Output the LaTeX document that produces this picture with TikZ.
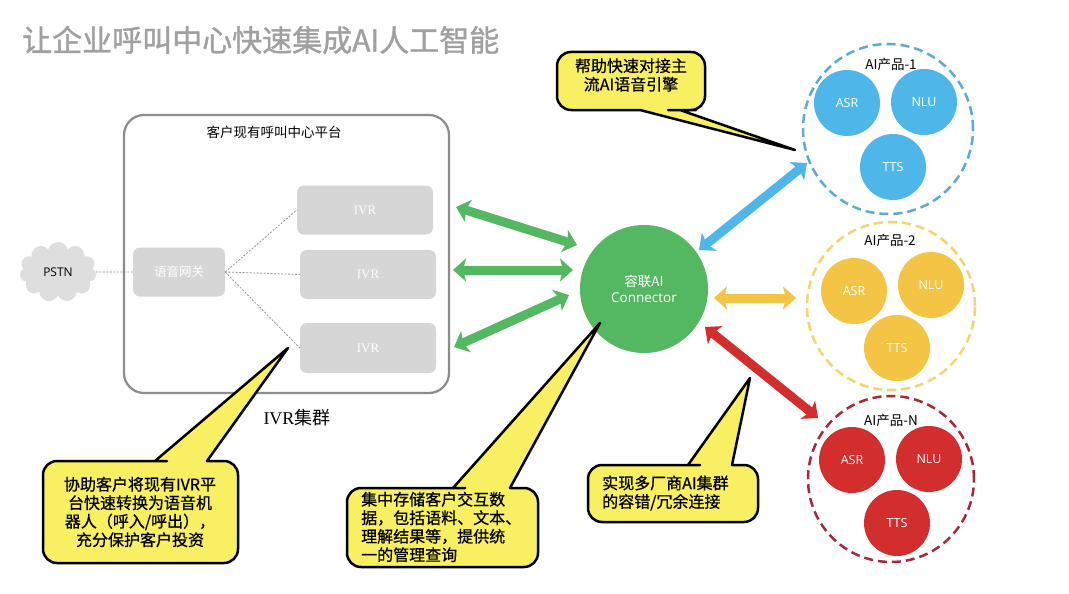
\documentclass[tikz,border=0pt]{standalone}
\usepackage{fontspec}
\setmainfont{Noto Sans CJK SC}
\newfontfamily\serifen{Liberation Serif}
\newfontfamily\latinsans{Open Sans}
\newfontfamily\titlefont[FakeBold=1.2]{Noto Sans CJK SC}
\newfontfamily\bubblefont[FakeBold=0.7]{Noto Sans CJK SC}
\usetikzlibrary{arrows.meta,shapes.symbols}
\definecolor{titlegray}{RGB}{160,160,160}
\definecolor{boxborder}{RGB}{140,140,140}
\definecolor{boxgray}{RGB}{214,214,214}
\definecolor{cloudgray}{RGB}{222,222,222}
\definecolor{dotgray}{RGB}{150,150,150}
\definecolor{cgreen}{RGB}{84,184,98}
\definecolor{cblue}{RGB}{78,182,232}
\definecolor{ringblue}{RGB}{92,170,214}
\definecolor{cyellow}{RGB}{244,196,68}
\definecolor{ringyellow}{RGB}{242,212,112}
\definecolor{cred}{RGB}{210,46,46}
\definecolor{ringred}{RGB}{168,40,58}
\definecolor{bubbleyellow}{RGB}{248,240,98}
\begin{document}
\begin{tikzpicture}[x=1pt,y=-1pt,
  graybox/.style={fill=boxgray, rounded corners=7pt, text=white, inner sep=0},
  prod/.style={circle, minimum size=66pt, inner sep=0, text=white, font=\latinsans\fontsize{12.5}{14}\selectfont},
  ring/.style={circle, dash pattern=on 9pt off 5pt, line width=2.5pt, inner sep=0},
  ringlabel/.style={font=\fontsize{13.5}{15}\selectfont, inner sep=0},
  dotline/.style={draw=dotgray, line width=0.8pt, dash pattern=on 2pt off 1.5pt},
  dbl/.style={line width=9pt, {Stealth[length=13pt,width=23pt,inset=3pt]}-{Stealth[length=13pt,width=23pt,inset=3pt]}},
  bubble/.style={fill=bubbleyellow, draw=black, line width=2.5pt, line join=round},
  bubbletext/.style={font=\bubblefont\fontsize{16}{18.5}\selectfont, inner sep=0}
]
\useasboundingbox (0,0) rectangle (1069,594);
\fill[white] (0,0) rectangle (1069,594);

% title
\node[anchor=west, text=titlegray, font=\titlefont\fontsize{30}{32}\selectfont, inner sep=0] (title) at (22,40) {让企业呼叫中心快速集成AI人工智能};

% platform
\node[draw=boxborder, line width=2.2pt, rounded corners=20pt, minimum width=325pt, minimum height=278pt, inner sep=0] (platform) at (286.5,254) {};
\node[font=\fontsize{13.5}{15}\selectfont, inner sep=0] (platlabel) at (274,132) {客户现有呼叫中心平台};

\node[cloud, cloud puffs=11, cloud ignores aspect, fill=cloudgray, minimum width=77pt, minimum height=60pt, inner sep=0, font=\latinsans\fontsize{12}{14}\selectfont] (pstn) at (58,272) {PSTN};
\node[graybox, minimum width=92pt, minimum height=49pt, font=\fontsize{12.5}{14}\selectfont] (gw) at (179,272) {语音网关};
\node[graybox, minimum width=136pt, minimum height=49pt, font=\serifen\fontsize{13}{15}\selectfont] (ivr1) at (365,210) {IVR};
\node[graybox, minimum width=136pt, minimum height=49pt, font=\serifen\fontsize{13}{15}\selectfont] (ivr2) at (368,274.5) {IVR};
\node[graybox, minimum width=136pt, minimum height=50pt, font=\serifen\fontsize{13}{15}\selectfont] (ivr3) at (368,348) {IVR};

\draw[dotline] (pstn.east) -- (gw.west);
\draw[dotline] (gw.east) -- (ivr1.west);
\draw[dotline] (gw.east) -- (ivr2.west);
\draw[dotline] (gw.east) -- (ivr3.west);

\node[font=\fontsize{18}{20}\selectfont, inner sep=0] (cluster) at (297,418) {{\serifen IVR}集群};

% connector
\node[circle, fill=cgreen, minimum size=128pt, inner sep=0, text=white, align=center, font=\fontsize{13.5}{16}\selectfont] (conn) at (644,289) {容联AI\\{\latinsans Connector}};

% products
\node[ring, draw=ringblue, minimum size=170pt] (p1) at (888,129) {};
\node[ringlabel] (p1l) at (891,64) {AI产品-1};
\node[prod, fill=cblue] (asr1) at (847,103) {ASR};
\node[prod, fill=cblue] (nlu1) at (924,102) {NLU};
\node[prod, fill=cblue] (tts1) at (893,167) {TTS};

\node[ring, draw=ringyellow, minimum size=168pt] (p2) at (891,306) {};
\node[ringlabel] (p2l) at (890,240) {AI产品-2};
\node[prod, fill=cyellow] (asr2) at (854,291) {ASR};
\node[prod, fill=cyellow] (nlu2) at (931,285) {NLU};
\node[prod, fill=cyellow] (tts2) at (897,348) {TTS};

\node[ring, draw=ringred, minimum size=166pt] (p3) at (891,479) {};
\node[ringlabel] (p3l) at (891,420) {AI产品-N};
\node[prod, fill=cred] (asr3) at (852,460) {ASR};
\node[prod, fill=cred] (nlu3) at (929,459) {NLU};
\node[prod, fill=cred] (tts3) at (897,523) {TTS};

% arrows
\coordinate (g1a) at (456,207); \coordinate (g1b) at (577,245);
\coordinate (g2a) at (453,270); \coordinate (g2b) at (573,270);
\coordinate (g3a) at (454,347); \coordinate (g3b) at (569,295);
\coordinate (ba) at (699,250); \coordinate (bb) at (807,163);
\coordinate (ya) at (714,298); \coordinate (yb) at (796,298);
\coordinate (ra) at (705,327); \coordinate (rb) at (818,418);
\draw[dbl, cgreen] (g1a) -- (g1b);
\draw[dbl, cgreen] (g2a) -- (g2b);
\draw[dbl, cgreen] (g3a) -- (g3b);
\draw[dbl, cblue] (ba) -- (bb);
\draw[dbl, cyellow] (ya) -- (yb);
\draw[dbl, cred] (ra) -- (rb);

% bubbles
\draw[bubble] (680,110) -- (795,150) -- (640,110) -- (638,110) [rounded corners=14pt] -- (557,110) -- (557,52) -- (705,52) -- (705,110) -- (682,110) [sharp corners] -- cycle;
\node[bubbletext, align=center] (t1) at (631,75) {帮助快速对接主\\流AI语音引擎};

\draw[bubble] (155,461) -- (288,348) -- (207,461) -- (209,461) [rounded corners=14pt] -- (238,461) -- (238,563) -- (43,563) -- (43,461) -- (153,461) [sharp corners] -- cycle;
\node[bubbletext, align=center] (t2) at (140,512) {协助客户将现有IVR平\\台快速转换为语音机\\器人（呼入/呼出），\\充分保护客户投资};

\draw[bubble] (453,488) -- (600,323) -- (510,488) -- (512,488) [rounded corners=14pt] -- (538,488) -- (538,567) -- (347,567) -- (347,488) -- (451,488) [sharp corners] -- cycle;
\node[bubbletext, align=left, anchor=west] (t3) at (361,527) {集中存储客户交互数\\据，包括语料、文本、\\理解结果等，提供统\\一的管理查询};

\draw[bubble] (688,465) -- (750,378) -- (732,465) -- (734,465) [rounded corners=14pt] -- (758,465) -- (758,522) -- (588,522) -- (588,465) -- (686,465) [sharp corners] -- cycle;
\node[bubbletext, align=left, anchor=west] (t4) at (602,493) {实现多厂商AI集群\\的容错/冗余连接};
\end{tikzpicture}
\end{document}
